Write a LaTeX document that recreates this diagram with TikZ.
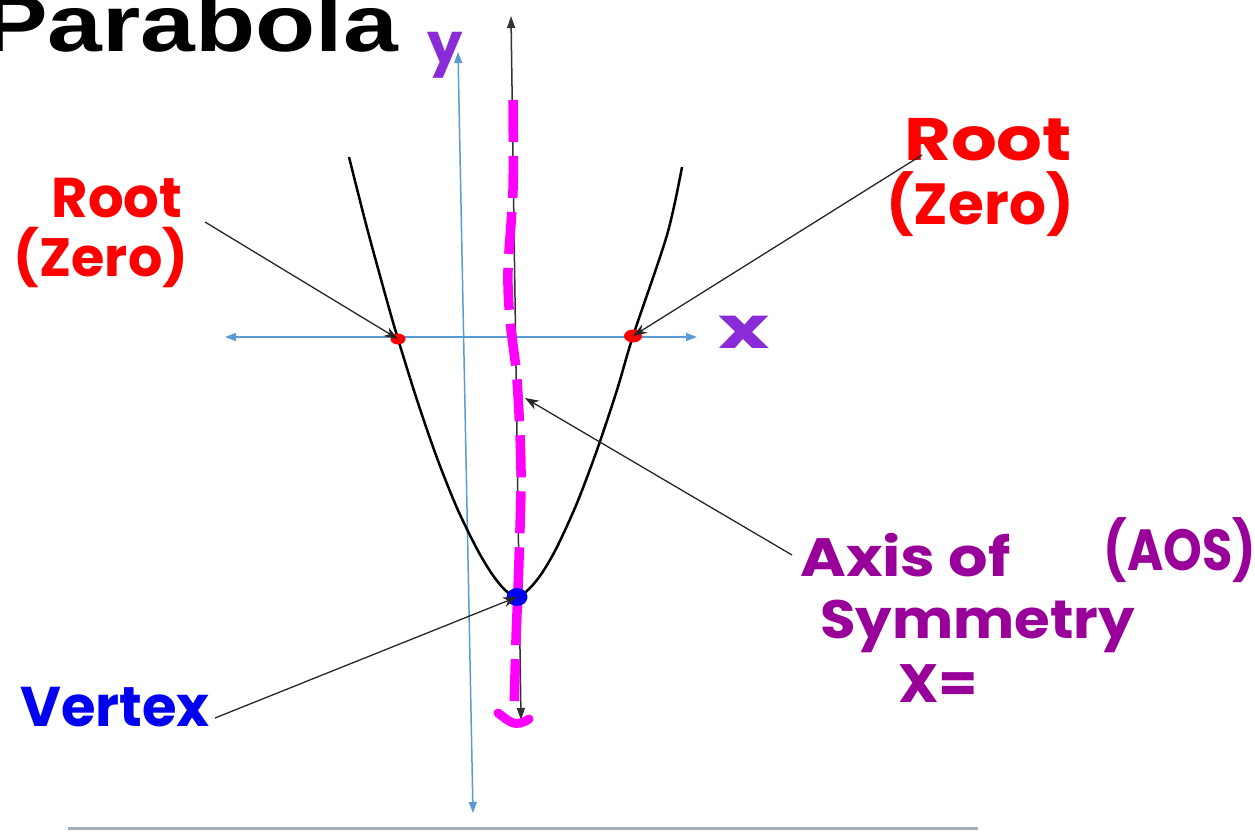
\documentclass[tikz,border=0pt]{standalone}
\usepackage{fontspec}
\setmainfont{Liberation Sans}
\newfontfamily\titlefont{Liberation Sans}
\newfontfamily\hand{Poppins}
\usetikzlibrary{arrows.meta}
\definecolor{axblue}{HTML}{5B9BD5}
\definecolor{rootred}{HTML}{FF0000}
\definecolor{labviolet}{HTML}{8A2BD8}
\definecolor{aospurple}{HTML}{990099}
\definecolor{vblue}{HTML}{0000F0}
\definecolor{mag}{HTML}{FF00FF}
\definecolor{rulegray}{HTML}{A3ADBA}
\tikzset{
  axisline/.style={draw=axblue, line width=1.5pt, {Triangle[length=11pt,width=8pt]}-{Triangle[length=11pt,width=8pt]}},
  pointer/.style={draw=black!85, line width=1.3pt, -{Stealth[length=14pt,width=10pt]}},
  handtxt/.style={inner sep=0pt, font=\hand\bfseries},
}
\begin{document}
\begin{tikzpicture}[x=1pt,y=-1pt]
\useasboundingbox (0,0) rectangle (1255,832);
\clip (0,0) rectangle (1255,832);
% title
\node[anchor=base west, inner sep=0pt, xscale=1.23, font=\titlefont\bfseries\fontsize{80}{80}\selectfont] (title) at (-18,52) {Parabola};
% bottom rule
\coordinate (ruleL) at (68,828);
\coordinate (ruleR) at (978,828);
\draw[rulegray, line width=3pt] (ruleL) -- (ruleR);
% axes
\coordinate (xL) at (225,337);
\coordinate (xR) at (697,337);
\coordinate (yT) at (458,52);
\coordinate (yB) at (473,813);
\draw[axisline] (xL) -- (xR);
\draw[axisline] (yB) -- (yT);
% black axis of symmetry line
\coordinate (sT) at (511,16);
\coordinate (sB) at (521,720);
\draw[black!80, line width=1.5pt, {Triangle[length=12pt,width=8pt]}-{Triangle[length=12pt,width=8pt]}] (sB) -- (sT);
% parabola
\draw[black, line width=2.5pt] plot[smooth] coordinates {
 (349,157) (367,228) (387,301) (398,339) (417,400) (437,458) (457,508) (477,549) (492,574) (505,590) (517,597)
 (529,589) (542,573) (557,547) (577,503) (597,450) (617,390) (633,336) (667,235) (682,167)};
% magenta dashed line
\draw[mag, line width=9.5pt, dash pattern=on 42pt off 14pt] plot[smooth] coordinates {
 (513,100) (513,190) (508,270) (510,320) (517,380) (521,470) (519,560) (516,640) (514,712)};
\draw[mag, line width=9pt, line cap=round] (498,713) .. controls (510,722) and (515,728) .. (529,719);
% points
\coordinate (r1) at (398,339);
\fill[rootred] (r1) ellipse [x radius=7.5pt, y radius=5.5pt];
\coordinate (r2) at (633,336);
\fill[rootred] (r2) ellipse [x radius=9pt, y radius=6.5pt];
\coordinate (vx) at (517,597);
\fill[vblue] (vx) ellipse [x radius=10.5pt, y radius=9pt];
% labels
\node[handtxt, text=rootred, font=\hand\bfseries\fontsize{56}{56}\selectfont] (rootL) at (117,198) {Root};
\node[handtxt, text=rootred, font=\hand\bfseries\fontsize{54}{54}\selectfont] (zeroL) at (101,257) {(Zero)};
\node[handtxt, text=rootred, xscale=1.2, font=\hand\bfseries\fontsize{60}{60}\selectfont] (rootR) at (988,140) {Root};
\node[handtxt, text=rootred, font=\hand\bfseries\fontsize{58}{58}\selectfont] (zeroR) at (980,204) {(Zero)};
\node[handtxt, text=labviolet, xscale=1.5, font=\hand\bfseries\fontsize{58}{58}\selectfont] (xlab) at (744,332) {x};
\node[handtxt, text=labviolet, font=\hand\bfseries\fontsize{56}{56}\selectfont] (ylab) at (445,55) {y};
\node[handtxt, text=aospurple, xscale=1.15, font=\hand\bfseries\fontsize{54}{54}\selectfont, anchor=west] (axis) at (800,555) {Axis of};
\node[handtxt, text=aospurple, xscale=0.85, font=\hand\bfseries\fontsize{58}{58}\selectfont] (aos) at (1180,550) {(AOS)};
\node[handtxt, text=aospurple, xscale=1.07, font=\hand\bfseries\fontsize{54}{54}\selectfont, anchor=west] (sym) at (820,626) {Symmetry};
\node[handtxt, text=aospurple, xscale=1.05, font=\hand\bfseries\fontsize{54}{54}\selectfont] (xeq) at (938,684) {X=};
\node[handtxt, text=vblue, font=\hand\bfseries\fontsize{56}{56}\selectfont] (vert) at (115,707) {Vertex};
% pointers
\coordinate (pL) at (205,222);
\coordinate (pR) at (922,155);
\coordinate (pA) at (792,555);
\coordinate (pV) at (215,718);
\coordinate (aosTip) at (525,398);
\draw[pointer] (pL) -- (r1);
\draw[pointer] (pR) -- (r2);
\draw[pointer] (pA) -- (aosTip);
\draw[pointer] (pV) -- (vx);
\end{tikzpicture}
\end{document}
